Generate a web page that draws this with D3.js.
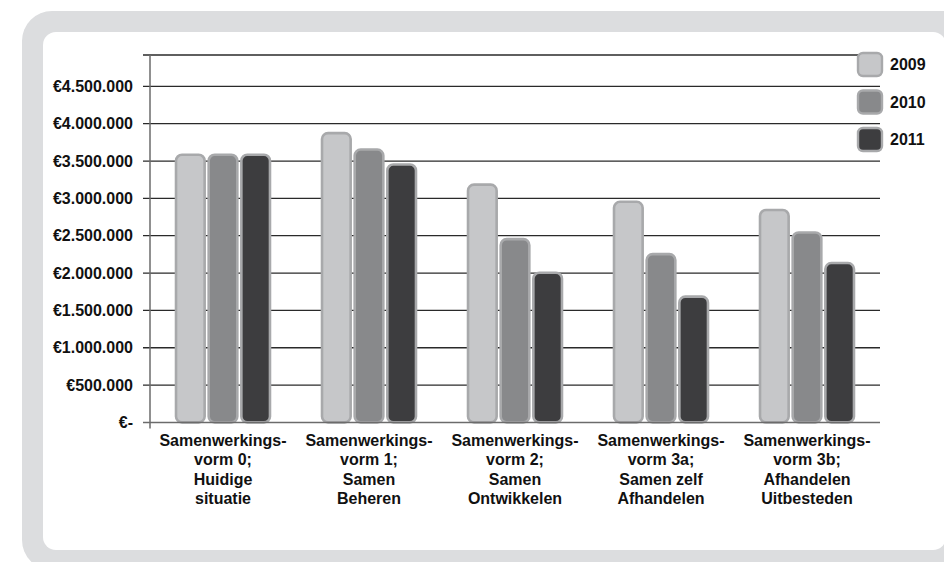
<!DOCTYPE html>
<html>
<head>
<meta charset="utf-8">
<script src="https://cdn.jsdelivr.net/npm/d3@7"></script>
<style>
  html, body { margin: 0; padding: 0; background: #ffffff; }
  svg { display: block; font-family: "Liberation Sans", Arial, sans-serif; }
</style>
</head>
<body>
<svg id="chart" width="944" height="562"></svg>
<script>
// Cost per cooperation form, per year
const categories = [
  ["Samenwerkings-", "vorm 0;", "Huidige", "situatie"],
  ["Samenwerkings-", "vorm 1;", "Samen", "Beheren"],
  ["Samenwerkings-", "vorm 2;", "Samen", "Ontwikkelen"],
  ["Samenwerkings-", "vorm 3a;", "Samen zelf", "Afhandelen"],
  ["Samenwerkings-", "vorm 3b;", "Afhandelen", "Uitbesteden"]
];
const years = ["2009", "2010", "2011"];
const values2009 = [3600000, 3890000, 3200000, 2970000, 2860000];
const values2010 = [3600000, 3670000, 2470000, 2270000, 2560000];
const values2011 = [3600000, 3470000, 2020000, 1700000, 2150000];
const tickValues = [0, 500000, 1000000, 1500000, 2000000, 2500000, 3000000, 3500000, 4000000, 4500000];
const tickLabels = ["€-", "€500.000", "€1.000.000", "€1.500.000", "€2.000.000", "€2.500.000",
                    "€3.000.000", "€3.500.000", "€4.000.000", "€4.500.000"];
const axisMax = 4920000;
const colors = ["#c6c7c9", "#88898b", "#3d3d3f"];

const series = [values2009, values2010, values2011];
const FONT = "'Liberation Sans', Arial, Helvetica, sans-serif";

const svg = d3.select("#chart");

// Panel frame: grey rounded border with white inner card
svg.append("rect").attr("x", 22).attr("y", 11).attr("width", 960).attr("height", 559)
  .attr("rx", 30).attr("fill", "#dcdddf");
svg.append("rect").attr("x", 43).attr("y", 32).attr("width", 903).attr("height", 518)
  .attr("rx", 13).attr("fill", "#ffffff");

const plot = { left: 150, right: 880, top: 55, bottom: 422.4 };

const y = d3.scaleLinear().domain([0, axisMax]).range([plot.bottom, plot.top]);
const x0 = d3.scaleBand().domain(d3.range(categories.length))
  .range([plot.left, plot.right]).paddingInner(0.34).paddingOuter(0.17);
const x1 = d3.scaleBand().domain(d3.range(years.length))
  .range([0, x0.bandwidth()]).paddingInner(0.05);

// Gridlines with tick marks reaching left of the axis
const grid = svg.append("g");
grid.selectAll("line.grid").data(tickValues.filter(d => d > 0)).join("line")
  .attr("class", "grid")
  .attr("x1", plot.left - 7).attr("x2", plot.right)
  .attr("y1", d => y(d)).attr("y2", d => y(d))
  .attr("stroke", "#2a2a2a").attr("stroke-width", 1.3);
// top border of the plot area
grid.append("line")
  .attr("x1", plot.left - 7).attr("x2", plot.right)
  .attr("y1", y(axisMax)).attr("y2", y(axisMax))
  .attr("stroke", "#2a2a2a").attr("stroke-width", 1.3);

// Bars
const groups = svg.append("g").selectAll("g").data(categories).join("g")
  .attr("transform", (d, i) => `translate(${x0(i)},0)`);
groups.selectAll("rect").data((d, i) => series.map((s, k) => ({ k, v: s[i] }))).join("rect")
  .attr("x", d => x1(d.k) + 1.2)
  .attr("width", x1.bandwidth() - 2.4)
  .attr("y", d => y(d.v) + 1.2)
  .attr("height", d => y(0) - y(d.v) - 1.2)
  .attr("rx", 6)
  .attr("fill", d => colors[d.k])
  .attr("stroke", "#a8a9ab").attr("stroke-width", 2.6);

// Baseline and vertical axis
svg.append("line").attr("x1", plot.left - 7).attr("x2", plot.right)
  .attr("y1", y(0)).attr("y2", y(0)).attr("stroke", "#6b6b6b").attr("stroke-width", 1.5);
svg.append("line").attr("x1", plot.left).attr("x2", plot.left)
  .attr("y1", y(axisMax)).attr("y2", y(0) + 6).attr("stroke", "#6b6b6b").attr("stroke-width", 1.5);

// Y tick labels
svg.append("g").selectAll("text").data(tickValues).join("text")
  .attr("x", plot.left - 17).attr("y", d => y(d))
  .attr("dy", "0.35em").attr("text-anchor", "end")
  .style("font-family", FONT)
  .attr("font-size", 16).attr("font-weight", "bold").attr("fill", "#111")
  .text((d, i) => tickLabels[i]);

// Category labels
const xl = svg.append("g").selectAll("text").data(categories).join("text")
  .attr("x", (d, i) => x0(i) + x0.bandwidth() / 2)
  .attr("y", 446)
  .attr("text-anchor", "middle")
  .style("font-family", FONT)
  .attr("font-size", 16).attr("font-weight", "bold").attr("fill", "#111");
xl.selectAll("tspan").data(d => d).join("tspan")
  .attr("x", function () { return d3.select(this.parentNode).attr("x"); })
  .attr("dy", (d, i) => i === 0 ? 0 : 19.3)
  .text(d => d);

// Legend
const legend = svg.append("g").selectAll("g").data(years).join("g")
  .attr("transform", (d, i) => `translate(858,${53 + i * 37.5})`);
legend.append("rect").attr("width", 24).attr("height", 23).attr("rx", 5)
  .attr("fill", (d, i) => colors[i]).attr("stroke", "#a8a9ab").attr("stroke-width", 2.4);
legend.append("text").attr("x", 32).attr("y", 11.5).attr("dy", "0.35em")
  .style("font-family", FONT)
  .attr("font-size", 16).attr("font-weight", "bold").attr("fill", "#111")
  .text(d => d);
</script>
</body>
</html>
